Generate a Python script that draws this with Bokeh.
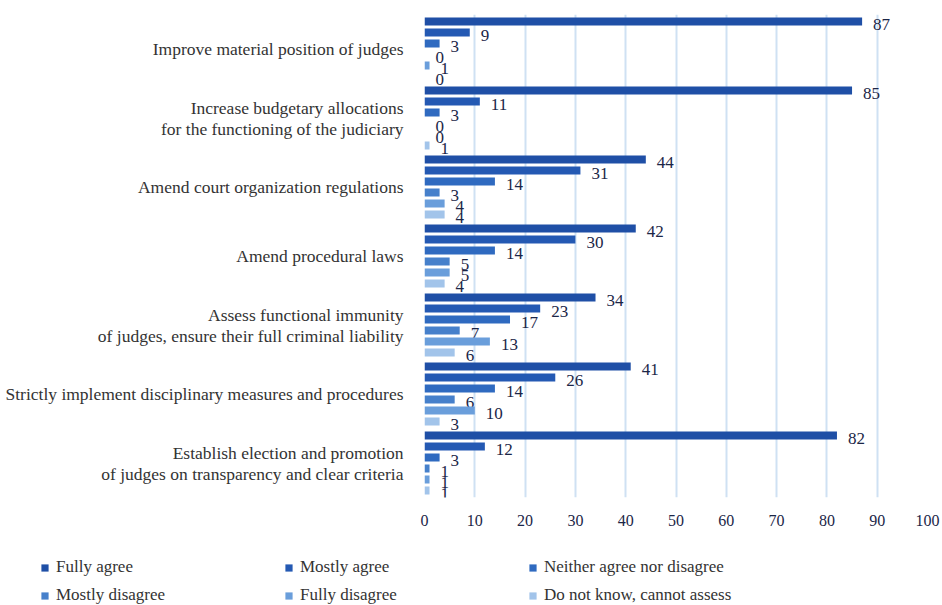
from bokeh.plotting import figure
from bokeh.models import (ColumnDataSource, FixedTicker, Legend, LegendItem, Range1d)
from bokeh.layouts import column
from bokeh.core.properties import value
from bokeh.embed import file_html
from bokeh.resources import INLINE

# Survey measures (top to bottom) and answer shares in percent
measures = [
    "Improve material position of judges",
    "Increase budgetary allocations\nfor the functioning of the judiciary",
    "Amend court organization regulations",
    "Amend procedural laws",
    "Assess functional immunity\nof judges, ensure their full criminal liability",
    "Strictly implement disciplinary measures and procedures",
    "Establish election and promotion\nof judges on transparency and clear criteria",
]
answers = [
    "Fully agree",
    "Mostly agree",
    "Neither agree nor disagree",
    "Mostly disagree",
    "Fully disagree",
    "Do not know, cannot assess",
]
fully_agree = [87, 85, 44, 42, 34, 41, 82]
mostly_agree = [9, 11, 31, 30, 23, 26, 12]
neither = [3, 3, 14, 14, 17, 14, 3]
mostly_disagree = [0, 0, 3, 5, 7, 6, 1]
fully_disagree = [1, 0, 4, 5, 13, 10, 1]
do_not_know = [0, 1, 4, 4, 6, 3, 1]
x_ticks = list(range(0, 101, 10))

series = [fully_agree, mostly_agree, neither, mostly_disagree, fully_disagree, do_not_know]
colors = ["#1f4fa6", "#2459b3", "#2f6ac0", "#4680cb", "#6a9edb", "#a2c4ea"]

SERIF = "Liberation Serif"
n = len(measures)
centers = [n - 1 - i for i in range(n)]  # first measure at the top
pitch = 0.159
bar_h = 0.116

p = figure(width=942, height=540, output_backend="svg", toolbar_location=None,
           x_range=Range1d(0, 100), y_range=Range1d(-0.5, n - 0.5),
           min_border_left=424, min_border_right=15, min_border_top=14,
           min_border_bottom=43)
p.outline_line_color = None
p.background_fill_color = "white"
p.border_fill_color = "white"

for j, (vals, col) in enumerate(zip(series, colors)):
    ys = [c + (2.5 - j) * pitch for c in centers]
    src = ColumnDataSource(dict(y=ys, v=vals, lbl=[str(v) for v in vals]))
    p.hbar(y="y", left=0, right="v", height=bar_h, source=src,
           fill_color=col, line_color=None)
    p.text(x="v", y="y", text="lbl", source=src, x_offset=11, y_offset=3,
           text_baseline="middle", text_align="left",
           text_font=value(SERIF), text_font_size="17px", text_color="#1b2647")

# x axis: tick labels only, light blue vertical grid
p.xaxis.ticker = FixedTicker(ticks=x_ticks)
p.xaxis.axis_line_color = None
p.xaxis.major_tick_line_color = None
p.xaxis.minor_tick_line_color = None
p.xaxis.major_label_standoff = 11
p.xaxis.major_label_text_font = SERIF
p.xaxis.major_label_text_font_size = "16px"
p.xaxis.major_label_text_color = "#1b2647"
p.xgrid.ticker = FixedTicker(ticks=x_ticks)
p.xgrid.grid_line_color = "#cfe1f3"
p.xgrid.grid_line_width = 2
p.ygrid.grid_line_color = None

# y axis: measure names
p.yaxis.ticker = FixedTicker(ticks=centers)
p.yaxis.major_label_overrides = {c: m for c, m in zip(centers, measures)}
p.yaxis.axis_line_color = None
p.yaxis.major_tick_line_color = None
p.yaxis.minor_tick_line_color = None
p.yaxis.major_label_standoff = 15
p.yaxis.major_label_text_font = SERIF
p.yaxis.major_label_text_font_size = "17.5px"
p.yaxis.major_label_text_line_height = 1.05
p.yaxis.major_label_text_color = "#333333"

# legend strip below the chart, two rows of three answers
leg = figure(width=942, height=65, output_backend="svg", toolbar_location=None,
             x_range=Range1d(0, 1), y_range=Range1d(0, 1),
             min_border=0, outline_line_color=None)
if "frame_align" in leg.properties():
    leg.frame_align = False
leg.axis.visible = False
leg.grid.visible = False
items = []
for col, name in zip(colors, answers):
    r = leg.rect(x=[-10], y=[-10], width=1, height=1, fill_color=col, line_color=None)
    items.append(LegendItem(label=name, renderers=[r]))
legend = Legend(items=items, location=(40, 0), orientation="horizontal",
                ncols=3, padding=0, margin=0, spacing=8,
                glyph_width=9, glyph_height=9, label_standoff=7, label_width=220,
                label_height=18, border_line_color=None,
                background_fill_alpha=0,
                label_text_font=SERIF, label_text_font_size="17px",
                label_text_color="#333333")
leg.add_layout(legend, "center")

open("out.html", "w").write(file_html(column(p, leg, spacing=0), INLINE))
